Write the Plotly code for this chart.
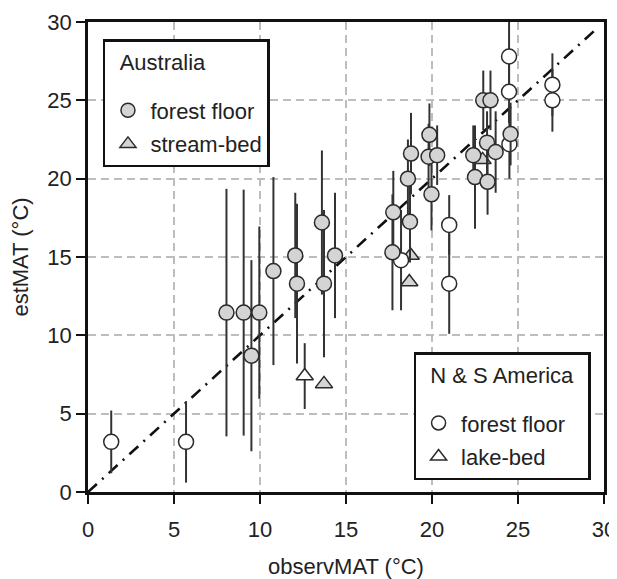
import plotly.graph_objects as go

# ---- data ----
# Australia, forest floor (grey circles)
au_ff_x = [8.05, 9.05, 9.5, 9.96, 10.78, 12.05, 12.15, 13.6, 13.72, 14.36,
           17.75, 17.7, 18.78, 18.6, 18.72, 19.85, 19.8, 20.3, 19.97,
           22.98, 23.4, 22.4, 22.5, 23.2, 23.23, 23.7, 24.57]
au_ff_y = [11.45, 11.45, 8.7, 11.45, 14.1, 15.1, 13.3, 17.2, 13.3, 15.1,
           17.85, 15.3, 21.6, 20.0, 17.25, 22.8, 21.4, 21.5, 19.0,
           25.0, 25.0, 21.5, 20.1, 22.3, 19.8, 21.7, 22.85]
au_ff_err = [7.9, 7.85, 6.1, 5.5, 6.0, 4.0, 5.1, 4.6, 4.7, 4.0,
             2.65, 3.7, 2.6, 2.5, 2.6, 2.0, 2.1, 1.9, 2.3,
             1.9, 1.9, 1.9, 3.3, 2.0, 2.1, 2.6, 2.0]

# Australia, stream-bed (grey triangles)
au_sb_x = [13.72, 18.76, 18.68, 22.94]
au_sb_y = [6.9, 15.1, 13.4, 21.2]

# N & S America, forest floor (open circles)
am_ff_x = [1.35, 5.7, 18.2, 21.0, 21.0, 24.48, 24.48, 24.5, 27.0, 27.0]
am_ff_y = [3.2, 3.2, 14.8, 17.05, 13.3, 27.8, 25.55, 22.2, 26.0, 25.0]
am_ff_err = [2.0, 2.6, 3.2, 1.9, 3.2, 2.7, 2.0, 2.2, 2.0, 2.0]

# N & S America, lake-bed (open triangles)
am_lb_x = [12.6]
am_lb_y = [7.4]
am_lb_err = [2.1]

# 1:1 line
one_to_one = [0, 29.6]

tick_vals = [0, 5, 10, 15, 20, 25, 30]

FONT = "Liberation Sans, Arial, sans-serif"
FS = 22
GREY = "#d4d4d4"
EDGE = "#2a2a2a"
MS = 15

fig = go.Figure()

fig.add_trace(go.Scatter(
    x=one_to_one, y=one_to_one, mode="lines",
    line=dict(color="#111", width=2.6, dash="12px,7px,2px,7px"),
    showlegend=False, hoverinfo="skip"))

def err(arr):
    return dict(type="data", array=arr, visible=True, color="#333",
                thickness=2, width=0)

fig.add_trace(go.Scatter(
    x=am_lb_x, y=am_lb_y, mode="markers", error_y=err(am_lb_err),
    marker=dict(symbol="triangle-up", size=MS, color="white",
                line=dict(color=EDGE, width=1.5)),
    showlegend=False))
fig.add_trace(go.Scatter(
    x=au_sb_x, y=au_sb_y, mode="markers",
    marker=dict(symbol="triangle-up", size=MS, color=GREY,
                line=dict(color=EDGE, width=1.5)),
    showlegend=False))
fig.add_trace(go.Scatter(
    x=am_ff_x, y=am_ff_y, mode="markers", error_y=err(am_ff_err),
    marker=dict(symbol="circle", size=MS, color="white",
                line=dict(color=EDGE, width=1.5)),
    showlegend=False))
fig.add_trace(go.Scatter(
    x=au_ff_x, y=au_ff_y, mode="markers", error_y=err(au_ff_err),
    marker=dict(symbol="circle", size=MS, color=GREY,
                line=dict(color=EDGE, width=1.5)),
    showlegend=False))

# legend-only entries
def leg_entry(name, symbol, fill, legend, group, spacer=False):
    kw = {}
    if spacer:
        kw["legendgrouptitle"] = dict(text="&nbsp;",
                                      font=dict(family=FONT, size=6))
    fig.add_trace(go.Scatter(
        x=[None], y=[None], mode="markers", name=name, legend=legend,
        legendgroup=group,
        marker=dict(symbol=symbol, size=14, color=fill,
                    line=dict(color=EDGE, width=1.5)), **kw))

leg_entry("forest floor", "circle", GREY, "legend", "a1", spacer=True)
leg_entry("stream-bed", "triangle-up", GREY, "legend", "a2")
leg_entry("forest floor", "circle", "white", "legend2", "b1", spacer=True)
leg_entry("lake-bed", "triangle-up", "white", "legend2", "b2")

legend_common = dict(
    bgcolor="white", bordercolor="#111", borderwidth=2.5,
    font=dict(family=FONT, size=FS, color="#222"),
    traceorder="grouped", tracegroupgap=2, itemwidth=35)

axis_common = dict(
    range=[0, 30], tickvals=tick_vals, showline=True, mirror=True,
    linecolor="#111", linewidth=2.5, ticks="outside", ticklen=9,
    tickwidth=2, tickcolor="#111", showgrid=True, gridcolor="#bdbdbd",
    gridwidth=1.5, griddash="8px,5px", zeroline=False, automargin=False,
    tickfont=dict(family=FONT, size=FS, color="#222"))

fig.update_layout(
    width=609, height=571,
    margin=dict(l=80, r=13, t=14, b=87),
    plot_bgcolor="white", paper_bgcolor="white",
    font=dict(family=FONT, size=FS, color="#222"),
    xaxis=dict(axis_common, ticklabelstandoff=7,
               title=dict(text="observMAT (°C)",
               font=dict(family=FONT, size=FS, color="#222"), standoff=18)),
    yaxis=dict(axis_common, ticklabelstandoff=0,
               title=dict(text="estMAT (°C)",
               font=dict(family=FONT, size=FS, color="#222"), standoff=23)),
    legend=dict(legend_common, title=dict(text="&nbsp;&nbsp;Australia",
                font=dict(family=FONT, size=FS, color="#222")),
                x=0.029, y=0.963, xanchor="left", yanchor="top"),
    legend2=dict(legend_common,
                 title=dict(text="&nbsp;&nbsp;N &amp; S America&nbsp;&nbsp;",
                 font=dict(family=FONT, size=FS, color="#222")),
                 x=0.974, y=0.0255, xanchor="right", yanchor="bottom"),
)

fig.write_html("out.html")
